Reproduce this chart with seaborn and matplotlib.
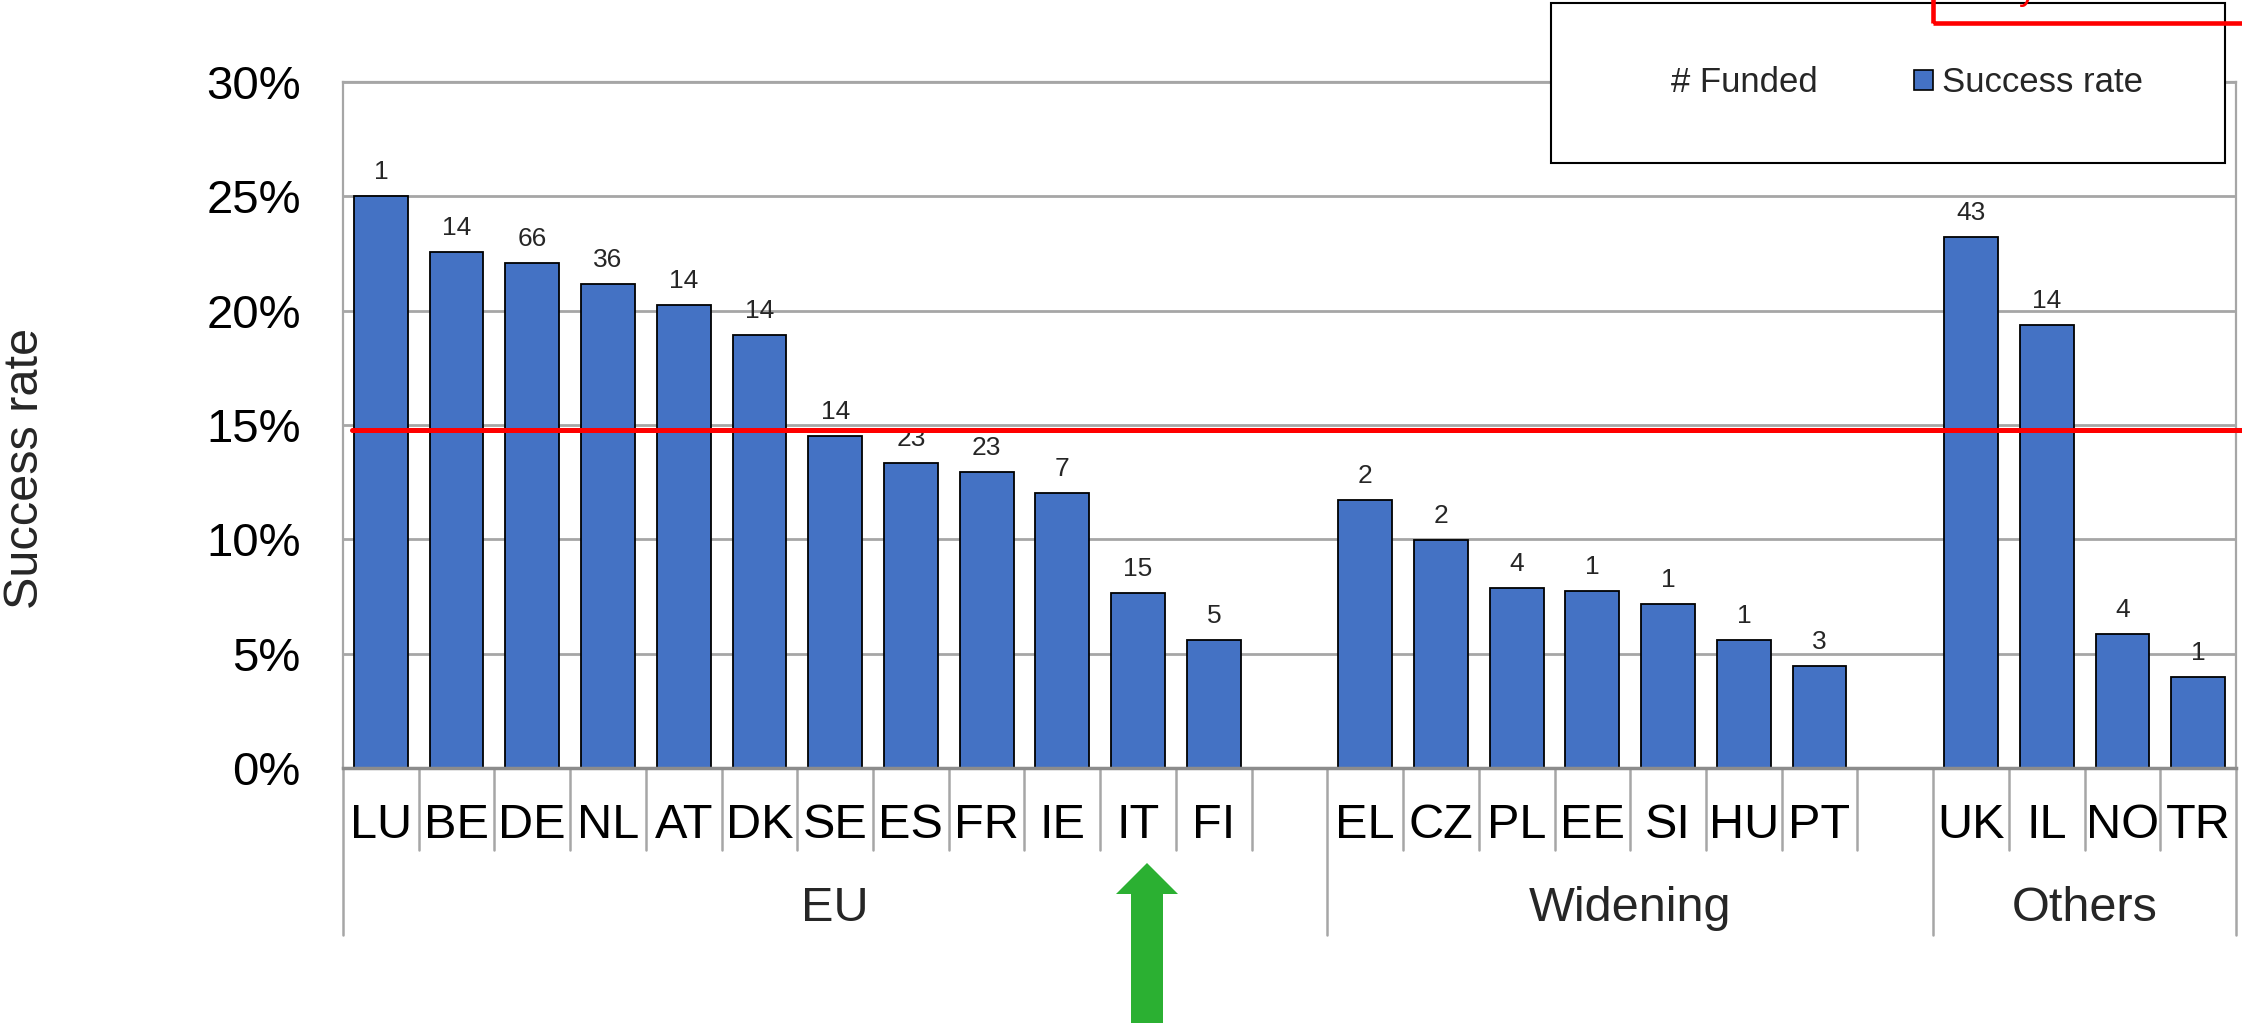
import matplotlib
matplotlib.use("Agg")
import matplotlib.pyplot as plt
from matplotlib.patches import Rectangle, Patch, Polygon
from matplotlib.lines import Line2D
from matplotlib.ticker import PercentFormatter
import seaborn as sns
import pandas as pd

# ---------------- data ----------------
eu_countries = ["LU", "BE", "DE", "NL", "AT", "DK", "SE", "ES", "FR", "IE", "IT", "FI"]
eu_rates = [0.250, 0.2257, 0.2208, 0.2117, 0.2024, 0.1894, 0.1454, 0.1333, 0.1296, 0.1202, 0.0765, 0.0559]
eu_funded = [1, 14, 66, 36, 14, 14, 14, 23, 23, 7, 15, 5]

wid_countries = ["EL", "CZ", "PL", "EE", "SI", "HU", "PT"]
wid_rates = [0.1174, 0.0997, 0.0785, 0.0773, 0.0718, 0.0559, 0.0447]
wid_funded = [2, 2, 4, 1, 1, 1, 3]

oth_countries = ["UK", "IL", "NO", "TR"]
oth_rates = [0.2320, 0.1939, 0.0586, 0.0400]
oth_funded = [43, 14, 4, 1]

group_names = ["EU", "Widening", "Others"]
average_rate = 0.148
y_ticks = [0, 0.05, 0.10, 0.15, 0.20, 0.25, 0.30]

# ---------------- table ----------------
df = pd.DataFrame({
    "country": eu_countries + wid_countries + oth_countries,
    "rate": eu_rates + wid_rates + oth_rates,
    "funded": eu_funded + wid_funded + oth_funded,
    "group": ["EU"] * len(eu_countries) + ["Widening"] * len(wid_countries) + ["Others"] * len(oth_countries),
})
gap1, gap2 = "_gap1", "_gap2"
order = eu_countries + [gap1] + wid_countries + [gap2] + oth_countries

# ---------------- style ----------------
sns.set_style("white")
plt.rcParams["font.family"] = ["Liberation Sans", "DejaVu Sans"]

W, H, DPI = 2242, 1023, 100
fig = plt.figure(figsize=(W / DPI, H / DPI), dpi=DPI)
ax = fig.add_axes([343 / W, 1 - 768 / H, (2236 - 343) / W, (768 - 82) / H])

BLUE = "#4472C4"
GRID = "#A6A6A6"
AXC = "#8C8C8C"

sns.barplot(data=df, x="country", y="rate", order=order, color=BLUE, saturation=1,
            edgecolor="black", linewidth=1.3, width=0.71, ax=ax, zorder=3)

ax.set_xlim(-0.5, len(order) - 0.5)
ax.set_ylim(0, 0.30)
ax.set_yticks(y_ticks)
ax.yaxis.set_major_formatter(PercentFormatter(1.0, decimals=0))
ax.yaxis.grid(True, color=GRID, linewidth=2.0, zorder=0)
ax.set_axisbelow(True)
ax.set_xlabel("")
ax.set_ylabel("")

ax.set_xticks(range(len(order)))
ax.set_xticklabels(["" if c.startswith("_gap") else c for c in order])
ax.tick_params(axis="x", length=0, pad=25, labelsize=35, colors="black")
ax.tick_params(axis="y", length=9.4, width=1.5, color=AXC, pad=21, labelsize=34, labelcolor="black")

for side in ["left", "right", "top"]:
    ax.spines[side].set_color(GRID)
    ax.spines[side].set_linewidth(1.6)
ax.spines["bottom"].set_color(AXC)
ax.spines["bottom"].set_linewidth(2.5)
ax.spines["bottom"].set_zorder(4)

# value labels (# funded) above bars
pos = {c: i for i, c in enumerate(order)}
for c, r, n in zip(df["country"], df["rate"], df["funded"]):
    ax.annotate(str(n), xy=(pos[c], r), xytext=(0, 17), textcoords="offset pixels",
                ha="center", va="baseline", fontsize=19, zorder=5)

# average line
ax.axhline(average_rate, xmin=0.005, xmax=1.01, color="#FF0000", linewidth=3.6,
           clip_on=False, zorder=6)

# multi-level category axis separators
xt = ax.get_xaxis_transform()
short_depth = -(850 - 768) / (768 - 82)
long_depth = -(935 - 768) / (768 - 82)
group_bounds = [-0.5, len(eu_countries) + 0.5, len(eu_countries) + 1 + len(wid_countries) + 0.5, len(order) - 0.5]
for i in range(len(order) + 1):
    x = i - 0.5
    d = long_depth if any(abs(x - g) < 1e-9 for g in group_bounds) else short_depth
    ax.plot([x, x], [0, d], transform=xt, color=GRID, linewidth=1.8, clip_on=False, zorder=2)

for gname, lo, hi in zip(group_names, group_bounds[:-1], group_bounds[1:]):
    ax.annotate(gname, xy=((lo + hi) / 2, 0), xycoords=("data", "axes fraction"),
                xytext=(0, -(888 - 768) + 2), textcoords="offset pixels",
                ha="center", va="top", fontsize=35)

# y label
fig.text(26 / W, 1 - 468 / H, "Success rate", rotation=90, ha="center", va="center", fontsize=35)

# legend box
fig.add_artist(Rectangle((1551 / W, 1 - 163 / H), (2225 - 1551) / W, (163 - 3) / H,
                         transform=fig.transFigure, facecolor="white", edgecolor="black",
                         linewidth=1.5, zorder=5))
handles = [Line2D([], [], color="none"),
           Patch(facecolor=BLUE, edgecolor="black", linewidth=1.2)]
leg = fig.legend(handles, ["# Funded", "Success rate"], loc="center",
                 bbox_to_anchor=(1893 / W, 1 - 83 / H), ncol=2, frameon=False,
                 fontsize=25, handlelength=0.55, handleheight=0.52, handletextpad=0.25,
                 columnspacing=2.77, borderpad=0)
leg.set_zorder(6)

# red annotation box (partially outside the image)
fig.add_artist(Rectangle((1933 / W, 1 - 23 / H), 0.2, 0.1, transform=fig.transFigure,
                         fill=False, edgecolor="#FF0000", linewidth=3.3, zorder=7, clip_on=False))
fig.text(2028 / W, 1 + 1 / H, "y", color="#FF0000", fontsize=26, ha="center", va="baseline", zorder=7)

# green arrow pointing at IT
pts = [(1131, 1030), (1131, 894), (1116, 894), (1147, 863), (1178, 894), (1163, 894), (1163, 1030)]
fig.add_artist(Polygon([(x / W, 1 - y / H) for x, y in pts], closed=True, transform=fig.transFigure,
                       facecolor="#2BB032", edgecolor="none", zorder=7))

fig.savefig("out.png", dpi=DPI)
